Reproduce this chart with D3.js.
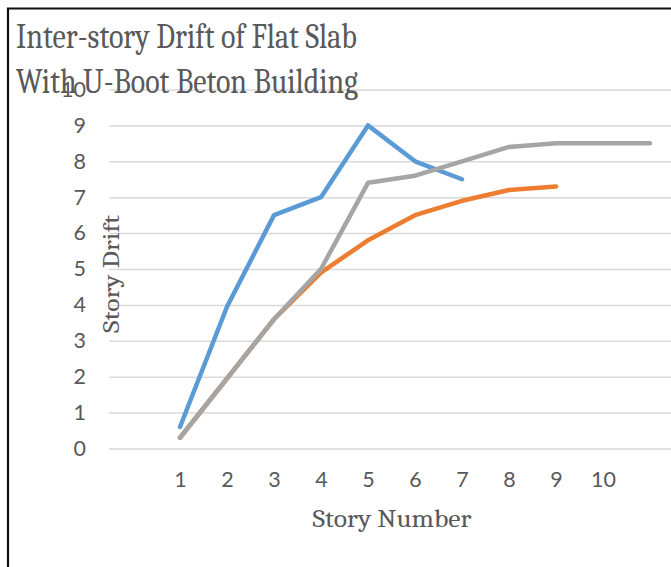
<!DOCTYPE html>
<html>
<head>
<meta charset="utf-8">
<script src="https://cdn.jsdelivr.net/npm/d3@7"></script>
<style>
  body { margin: 0; background: #fff; }
  svg { display: block; }
</style>
</head>
<body>
<div id="chart"></div>
<script>
// Inter-story drift line chart

// Data
let stories = [1, 2, 3, 4, 5, 6, 7, 8, 9, 10, 11];
let blueDrift = [0.6, 3.95, 6.5, 7.0, 9.0, 8.0, 7.5];
let orangeDrift = [0.3, 1.95, 3.6, 4.9, 5.8, 6.5, 6.9, 7.2, 7.3];
let grayDrift = [0.3, 1.95, 3.6, 5.0, 7.4, 7.6, 8.0, 8.4, 8.5, 8.5, 8.5];
let xTickLabels = [1, 2, 3, 4, 5, 6, 7, 8, 9, 10];
let yTickLabels = [0, 1, 2, 3, 4, 5, 6, 7, 8, 9, 10];

let width = 671, height = 567;

let svg = d3.select("#chart")
	.append("svg")
	.attr("width", width)
	.attr("height", height);

// Plot area edges
let plotLeft = 109, plotRight = 700;

// Scales
let x = d3.scaleLinear().domain([1, 10]).range([180, 603]);
let y = d3.scaleLinear().domain([0, 10]).range([448.5, 89.5]);

// Outer frame (only top and left show in the window)
svg.append("path")
	.attr("d", "M8,700 L8,8.5 L700,8.5")
	.attr("fill", "none")
	.attr("stroke", "#111")
	.attr("stroke-width", 2.2);

// Gridlines
svg.append("g")
	.attr("transform", "translate(" + plotLeft + ",0)")
	.call(d3.axisLeft(y).tickValues(yTickLabels).tickSize(-(plotRight - plotLeft)).tickFormat(""))
	.call(g => g.select(".domain").remove())
	.call(g => g.selectAll("line").attr("stroke", "#d9d9d9").attr("stroke-width", 1.5));

// Y tick labels
svg.append("g")
	.attr("transform", "translate(" + plotLeft + ",0)")
	.call(d3.axisLeft(y).tickValues(yTickLabels).tickSize(0).tickPadding(23))
	.call(g => g.select(".domain").remove())
	.call(g => g.selectAll("text")
		.attr("fill", "#595959")
		.style("font-family", "Lato, 'Open Sans', sans-serif")
		.style("font-size", "21.5px"));

// X tick labels
svg.append("g")
	.attr("transform", "translate(0," + y(0) + ")")
	.call(d3.axisBottom(x).tickValues(xTickLabels).tickSize(0))
	.call(g => g.select(".domain").remove())
	.call(g => g.selectAll("text")
		.attr("y", 31)
		.attr("dy", "0.35em")
		.attr("fill", "#595959")
		.style("font-family", "Lato, 'Open Sans', sans-serif")
		.style("font-size", "21.5px"));

// Lines
let line = d3.line()
	.x((d, i) => x(stories[i]))
	.y(d => y(d));

let drawLine = (values, colour) => svg.append("path")
	.datum(values)
	.attr("d", line)
	.attr("fill", "none")
	.attr("stroke", colour)
	.attr("stroke-width", 4.5)
	.attr("stroke-linecap", "round")
	.attr("stroke-linejoin", "round");

drawLine(blueDrift, "#5b9bd5");
drawLine(orangeDrift, "#ed7d31");
drawLine(grayDrift, "#a5a5a5");

// Title
let titleFont = "Cambria, 'Liberation Serif', 'DejaVu Serif', serif";
svg.append("text")
	.attr("x", 16).attr("y", 48)
	.attr("textLength", 341).attr("lengthAdjust", "spacingAndGlyphs")
	.attr("fill", "#595959")
	.style("font-family", titleFont)
	.style("font-size", "35px")
	.text("Inter-story Drift of Flat Slab");
svg.append("text")
	.attr("x", 16).attr("y", 93)
	.attr("textLength", 342).attr("lengthAdjust", "spacingAndGlyphs")
	.attr("fill", "#595959")
	.style("font-family", titleFont)
	.style("font-size", "35px")
	.text("With U-Boot Beton Building");

// Axis titles
svg.append("text")
	.attr("x", 392).attr("y", 527)
	.attr("text-anchor", "middle")
	.attr("textLength", 159).attr("lengthAdjust", "spacingAndGlyphs")
	.attr("fill", "#595959")
	.style("font-family", titleFont)
	.style("font-size", "25px")
	.text("Story Number");

svg.append("text")
	.attr("transform", "translate(119,274) rotate(-90)")
	.attr("text-anchor", "middle")
	.attr("textLength", 118).attr("lengthAdjust", "spacingAndGlyphs")
	.attr("fill", "#595959")
	.style("font-family", titleFont)
	.style("font-size", "23px")
	.text("Story Drift");
</script>
</body>
</html>
